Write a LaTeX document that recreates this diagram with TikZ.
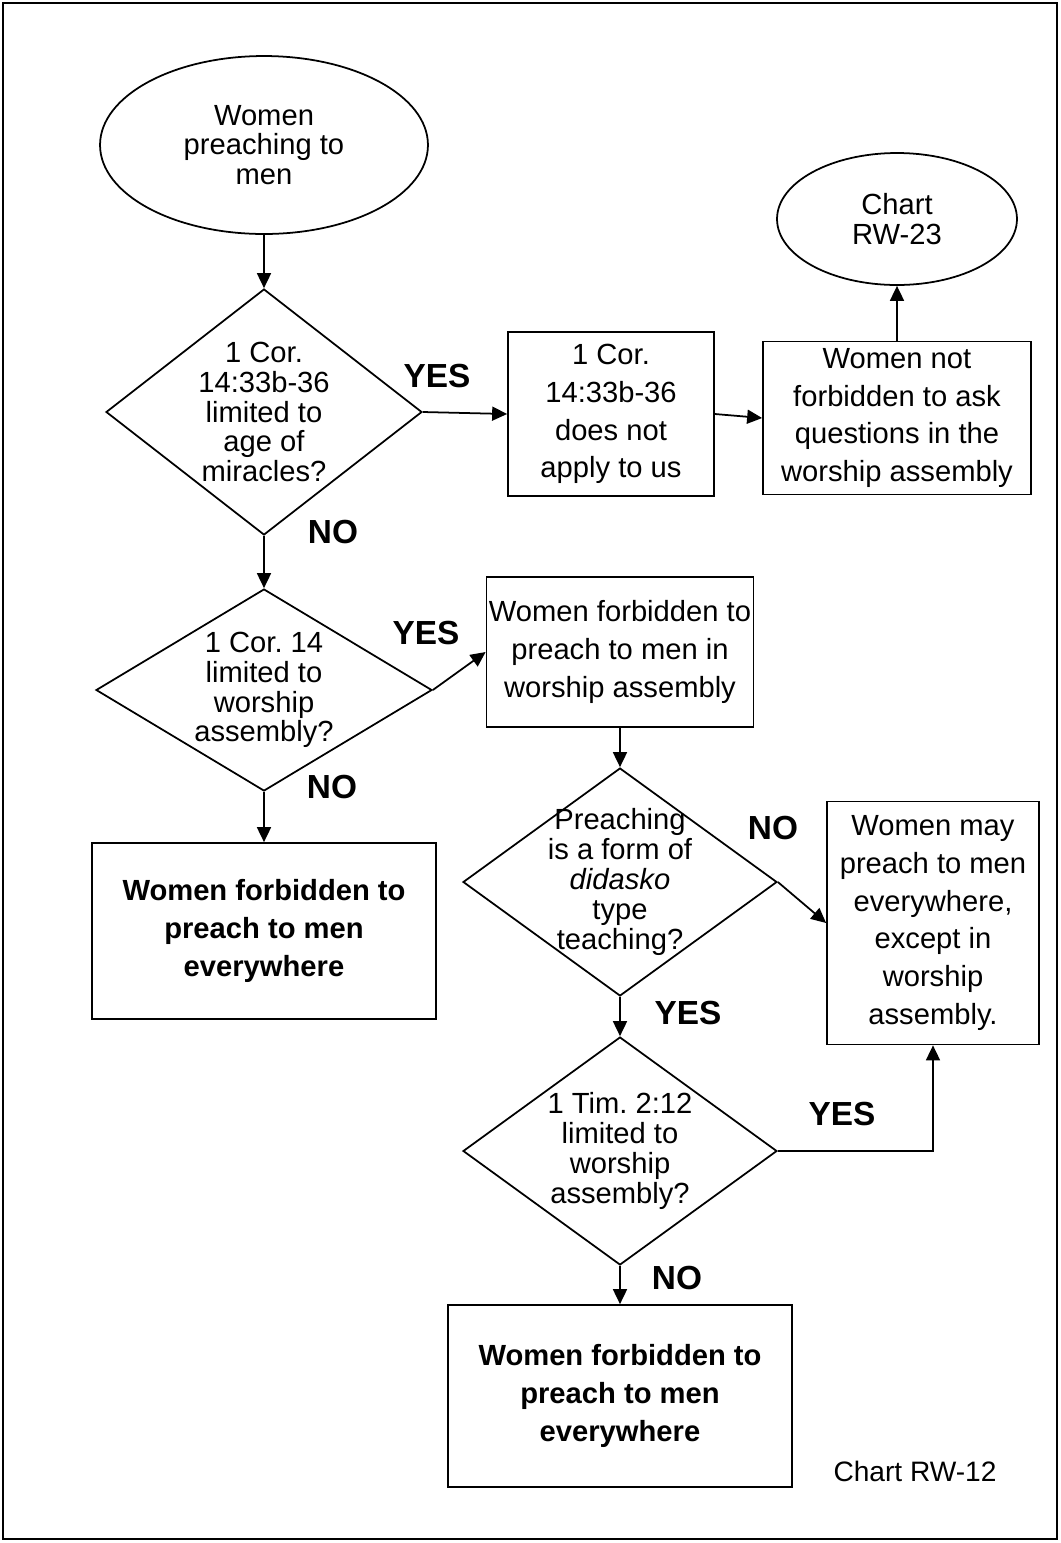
\documentclass[tikz,border=0pt]{standalone}
\usepackage{fontspec}
\setmainfont{Liberation Sans}
\usetikzlibrary{shapes.geometric,arrows.meta}
\frenchspacing

\begin{document}
\begin{tikzpicture}[x=0.02cm,y=-0.02cm,line width=1pt,>={Triangle[length=0.3cm,width=0.28cm]},
	start_node/.style={ellipse,draw,inner sep=0pt,align=center,font=\fontsize{16.6}{17}\selectfont},
	box_node/.style={rectangle,draw,inner sep=0pt,align=center,font=\fontsize{16.6}{21.5}\selectfont},
	end_node/.style={box_node,font=\bfseries\fontsize{16.6}{21.8}\selectfont},
	question_node/.style={diamond,draw,inner sep=0pt,label={[align=center,font=\fontsize{16.6}{17}\selectfont]center:#1}},
	answer_node/.style={font=\bfseries\fontsize{19}{23}\selectfont}]
		
		\useasboundingbox (0,0) rectangle (1061,1543);
		\draw (3,3) rectangle (1057,1539);
		
		\node[start_node,minimum width=6.56cm,minimum height=3.56cm] (start) at (264,145) {Women\\preaching to\\men};
		\node[question_node={1 Cor.\\14:33b-36\\limited to\\age of\\miracles?},minimum width=6.32cm,minimum height=4.92cm] (q1) at (264,412) {};
		\node[box_node,minimum width=4.12cm,minimum height=3.28cm] (noapply) at (611,414) {1 Cor.\\14:33b-36\\does not\\apply to us};
		\node[box_node,minimum width=5.36cm,minimum height=3.06cm] (ask) at (897,418) {Women not\\forbidden to ask\\questions in the\\worship assembly};
		\node[start_node,minimum width=4.8cm,minimum height=2.64cm] (rw23) at (897,219) {Chart\\RW-23};
		\node[question_node={1 Cor. 14\\limited to\\worship\\assembly?},minimum width=6.72cm,minimum height=4.04cm] (q2) at (264,690) {};
		\node[box_node,minimum width=5.34cm,minimum height=3cm] (assembly) at (620,652) {Women forbidden to\\preach to men in\\worship assembly};
		\node[end_node,minimum width=6.88cm,minimum height=3.52cm] (forbid1) at (264,931) {Women forbidden to\\preach to men\\everywhere};
		\node[question_node={Preaching\\is a form of\\\textit{didasko}\\type\\teaching?},minimum width=6.28cm,minimum height=4.56cm] (q3) at (620,882) {};
		\node[box_node,minimum width=4.24cm,minimum height=4.86cm] (may) at (933,923) {Women may\\preach to men\\everywhere,\\except in\\worship\\assembly.};
		\node[question_node={1 Tim. 2:12\\limited to\\worship\\assembly?},minimum width=6.28cm,minimum height=4.56cm] (q4) at (620,1151) {};
		\node[end_node,minimum width=6.88cm,minimum height=3.64cm] (forbid2) at (620,1396) {Women forbidden to\\preach to men\\everywhere};
		\node[font=\fontsize{16}{17}\selectfont] (chart) at (915,1471) {Chart RW-12};
		
		\node[answer_node] (yes1) at (437,376) {YES};
		\node[answer_node] (no1) at (333,532) {NO};
		\node[answer_node] (yes2) at (426,633) {YES};
		\node[answer_node] (no2) at (332,787) {NO};
		\node[answer_node] (no3) at (773,828) {NO};
		\node[answer_node] (yes3) at (688,1013) {YES};
		\node[answer_node] (yes4) at (842,1114) {YES};
		\node[answer_node] (no4) at (677,1278) {NO};
		
		\draw[->] (start) -- (q1);
		\draw[->] (q1.east) -- (noapply.west);
		\draw[->] (noapply.east) -- (ask.west);
		\draw[->] (ask) -- (rw23);
		\draw[->] (q1) -- (q2);
		\draw[->] (q2.east) -- (assembly.west);
		\draw[->] (q2) -- (forbid1);
		\draw[->] (assembly) -- (q3);
		\draw[->] (q3.east) -- (may.west);
		\draw[->] (q3) -- (q4);
		\draw[->] (q4.east) -| (may.south);
		\draw[->] (q4) -- (forbid2);
		\end{tikzpicture}
\end{document}
